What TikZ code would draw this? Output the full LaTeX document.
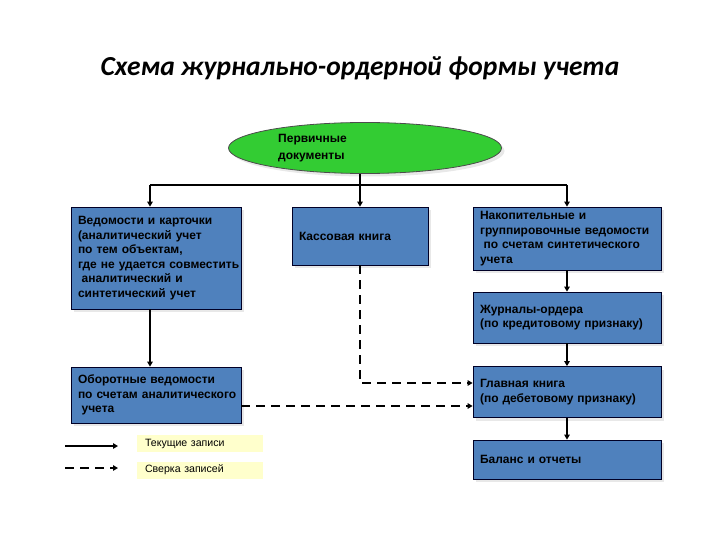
\documentclass[tikz,border=0pt]{standalone}
\usepackage{fontspec}
\setmainfont{Liberation Sans}
\newfontfamily\titlefont{Carlito}
\usetikzlibrary{arrows.meta,positioning,shapes.geometric,shadows}
\definecolor{boxblue}{HTML}{4F81BD}
\definecolor{docgreen}{HTML}{33CC33}
\definecolor{notefill}{HTML}{FFFFCC}

\begin{document}
\begin{tikzpicture}[
  x=1pt, y=-1pt,
  box/.style={draw=black!85!blue, line width=0.8pt, fill=boxblue, align=left, inner sep=0pt,
    font=\bfseries\fontsize{12}{14.5}\selectfont, execute at begin node={\leftskip=7pt\relax},
    drop shadow={shadow xshift=3pt, shadow yshift=-3pt, fill=black!15, opacity=0.6}},
  doc/.style={ellipse, draw=black!70, line width=0.8pt, fill=docgreen, inner sep=0pt,
    minimum width=273pt, minimum height=51pt,
    drop shadow={shadow xshift=3pt, shadow yshift=-3pt, fill=black!15, opacity=0.6}},
  doctext/.style={align=left, inner sep=0pt, font=\bfseries\fontsize{12}{16.5}\selectfont},
  note/.style={fill=notefill, align=left, inner sep=0pt, font=\fontsize{10.6}{12}\selectfont,
    minimum width=126pt, text width=110pt, minimum height=17pt},
  flow/.style={-{Triangle[length=5pt,width=5.5pt]}, line width=2pt},
  check/.style={flow, dash pattern=on 9pt off 6pt}
]
\useasboundingbox (0,0) rectangle (720,540);

% title
\node (title) at (360,68) {\titlefont\bfseries\itshape\fontsize{27.5}{32}\selectfont Схема журнально-ордерной формы учета};

% nodes
\node[doc] (primary) at (365,148) {};
\node[doctext, anchor=west] (primarytext) at (278,148) {Первичные\\документы};
\node[box, minimum width=170pt, text width=170pt, minimum height=102pt] (cards) at (156,258)
  {Ведомости и карточки\\(аналитический учет\\по тем объектам,\\где не удается совместить\\\hspace*{0.3em}аналитический и\\синтетический учет};
\node[box, minimum width=136pt, text width=136pt, minimum height=58pt] (cash) at (360,236) {Кассовая книга};
\node[box, minimum width=188pt, text width=188pt, minimum height=63pt] (accum) at (567,238.5)
  {Накопительные и\\группировочные ведомости\\\hspace*{0.3em}по счетам синтетического\\учета};
\node[box, minimum width=188pt, text width=188pt, minimum height=51pt] (journal) at (567,317.5)
  {Журналы-ордера\\(по кредитовому признаку)};
\node[box, minimum width=170pt, text width=170pt, minimum height=56pt] (turnover) at (156,395)
  {Оборотные ведомости\\по счетам аналитического\\\hspace*{0.3em}учета};
\node[box, minimum width=188pt, text width=188pt, minimum height=51pt] (ledger) at (567,392)
  {Главная книга\\(по дебетовому признаку)};
\node[box, minimum width=188pt, text width=188pt, minimum height=39pt] (balance) at (567,459.5)
  {Баланс и отчеты};

% legend
\coordinate (solidA) at (65,446);
\coordinate (solidB) at (118,446);
\coordinate (dashA) at (65,468);
\coordinate (dashB) at (118,468);
\node[note] (current) at (200,443.5) {Текущие записи};
\node[note] (verify) at (200,470) {Сверка записей};
\draw[flow] (solidA) -- (solidB);
\draw[check] (dashA) -- (dashB);

% connectors
\coordinate (split) at (360,185);
\draw[line width=2pt] (primary.south -| split) -- (split);
\draw[line width=2pt] ([xshift=-6pt]cards.north |- split) -- (accum.north |- split);
\draw[flow] ([xshift=-6pt]cards.north |- split) -- ([xshift=-6pt]cards.north);
\draw[flow] (split) -- (cash.north);
\draw[flow] (accum.north |- split) -- (accum.north);
\draw[flow] ([xshift=-6pt]cards.south) -- ([xshift=-6pt]turnover.north);
\draw[flow] (accum) -- (journal);
\draw[flow] (journal) -- (ledger);
\draw[flow] (ledger) -- (balance);
\draw[check] (cash.south) |- ([yshift=9pt]ledger.west);
\draw[check] ([yshift=-11pt]turnover.east) -- ([yshift=-11pt]turnover.east -| ledger.west);
\end{tikzpicture}
\end{document}
